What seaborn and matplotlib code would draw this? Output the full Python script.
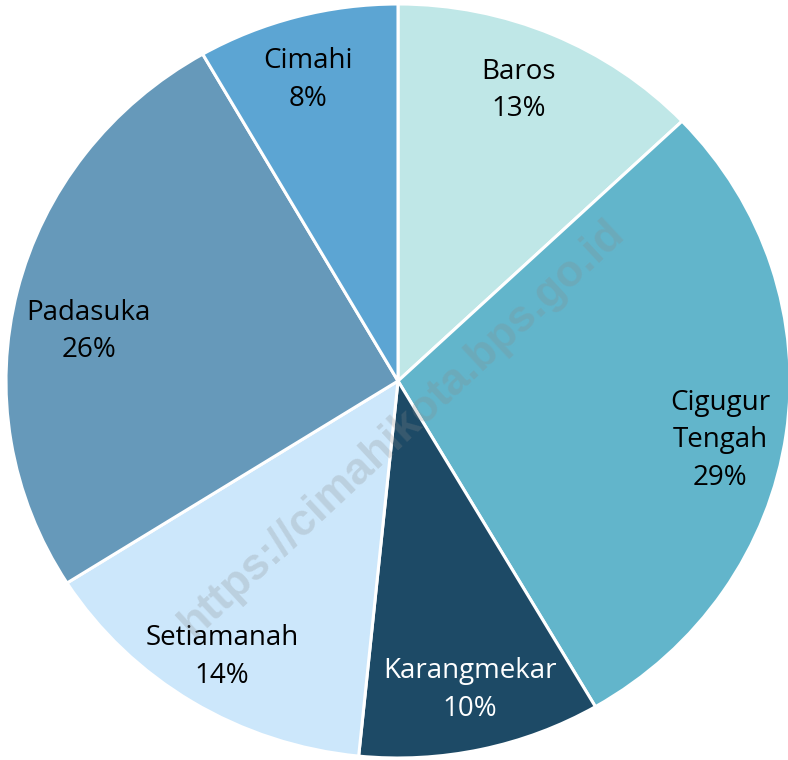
import numpy as np
import matplotlib
matplotlib.use("Agg")
import matplotlib.pyplot as plt
import seaborn as sns

sns.set_theme(style="white")
plt.rcParams['font.family'] = ['Open Sans', 'DejaVu Sans']

categories = ["Baros", "Cigugur\nTengah", "Karangmekar", "Setiamanah", "Padasuka", "Cimahi"]
values = [12.9, 28.7, 10.0, 14.4, 25.7, 8.3]
colors = ["#BFE7E7", "#62B5CB", "#1D4A66", "#CCE7FB", "#6699BA", "#5CA5D3"]
text_colors = ["black", "black", "white", "black", "black", "black"]

fig = plt.figure(figsize=(7.88, 7.60), dpi=100)
ax = fig.add_axes([0, 0, 1, 1])
wedges, _ = ax.pie(values, colors=colors, startangle=90, counterclock=False,
                   radius=1.0, wedgeprops=dict(edgecolor="white", linewidth=2.2))
ax.set_aspect('auto')
ax.set_xlim(-398 / 392, 390 / 392)
ax.set_ylim(-379 / 377, 381 / 377)
ax.axis('off')

total = sum(values)
dists = [0.83, 0.836, 0.84, 0.859, 0.80, 0.831]
nudges = [1.4, -2.7, 0.4, 0.2, 4.4, 1.1]
for w, name, v, tc, d, n in zip(wedges, categories, values, text_colors, dists, nudges):
    mid = np.deg2rad((w.theta1 + w.theta2) / 2 + n)
    x, y = d * np.cos(mid), d * np.sin(mid)
    ax.text(x, y, f"{name}\n{v / total * 100:.0f}%", ha="center", va="center",
            fontsize=20, color=tc, linespacing=1.45)

fig.text(402 / 788, 1 - 428 / 760, "https://cimahikota.bps.go.id", rotation=43,
         ha="center", va="center", fontsize=32, fontweight="bold",
         family=["Liberation Sans", "DejaVu Sans"], color="#8a8a8a", alpha=0.25)

fig.savefig("out.png", dpi=100)
